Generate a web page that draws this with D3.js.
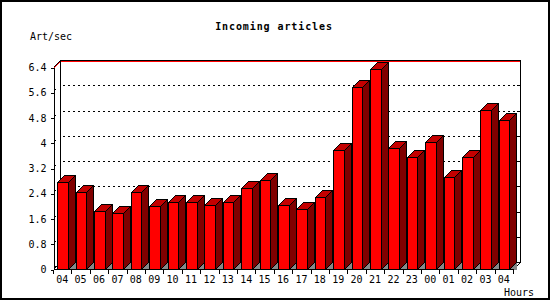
<!DOCTYPE html>
<html>
<head>
<meta charset="utf-8">
<script src="https://cdn.jsdelivr.net/npm/d3@7"></script>
<style>
  body { margin: 0; background: #fff; }
  text { font-family: "DejaVu Sans Mono", monospace; font-size: 10px; fill: #000; }
</style>
</head>
<body>
<div id="chart"></div>
<script>
const hours = ["04","05","06","07","08","09","10","11","12","13","14","15","16","17","18","19","20","21","22","23","00","01","02","03","04"]
const rates = [2.77,2.43,1.85,1.76,2.43,1.99,2.11,2.11,2.02,2.13,2.56,2.81,2.02,1.89,2.27,3.78,5.76,6.33,3.82,3.54,4.01,2.90,3.54,5.03,4.71]
const yTicks = [0,0.8,1.6,2.4,3.2,4,4.8,5.6,6.4]
const gridTicks = [0.8,1.6,2.4,3.2,4,4.8,5.6]

const width = 550
const height = 300
const left = 53, right = 513
const depth = 7

const svg = d3.select("#chart")
  .append("svg")
  .attr("width", width)
  .attr("height", height)
  .style("display", "block")

// outer frame
svg.append("rect")
  .attr("x", 1).attr("y", 1)
  .attr("width", width - 2).attr("height", height - 2)
  .attr("fill", "#fff").attr("stroke", "#000").attr("stroke-width", 2)

const x = d3.scaleBand()
  .domain(d3.range(hours.length))
  .range([left, right])
  .padding(0)

const y = d3.scaleLinear()
  .domain([0, 6.4])
  .range([269, 67])

const px = v => Math.round(v) + 0.5
const y0 = px(y(0))
const yMax = px(y(6.4))
const wl = left + depth, wr = right + depth

const g = svg.append("g").attr("shape-rendering", "crispEdges")

// dotted gridlines on back wall
g.selectAll("line.grid")
  .data(gridTicks)
  .join("line")
  .attr("x1", wl + 3).attr("x2", wr)
  .attr("y1", d => px(y(d)) - depth).attr("y2", d => px(y(d)) - depth)
  .attr("stroke", "#000").attr("stroke-dasharray", "2,3")

// right side ticks on wall
g.selectAll("line.rtick")
  .data(gridTicks)
  .join("line")
  .attr("x1", wr - 3).attr("x2", wr)
  .attr("y1", d => px(y(d)) - depth).attr("y2", d => px(y(d)) - depth)
  .attr("stroke", "#000")

// red line at top value
g.append("path")
  .attr("d", `M${left + 0.5},${yMax + 1}L${wl + 0.5},${yMax - depth + 1}L${wr + 0.5},${yMax - depth + 1}`)
  .attr("fill", "none").attr("stroke", "#f00")

// back wall edges
g.append("path")
  .attr("d", `M${left + 0.5},${yMax}L${wl + 0.5},${yMax - depth}L${wr + 0.5},${yMax - depth}L${wr + 0.5},${y0 - depth}L${wl + 0.5},${y0 - depth}L${wl + 0.5},${yMax - depth}`
    + `M${left + 0.5},${y0}L${wl + 0.5},${y0 - depth}M${right + 0.5},${y0}L${wr + 0.5},${y0 - depth}`)
  .attr("fill", "none").attr("stroke", "#000")

// bars
const bars = g.selectAll("g.bar")
  .data(rates)
  .join("g")
  .attr("class", "bar")

const bx = i => Math.round(x(i) + x.bandwidth() * 0.23) + 0.5
const bxr = i => Math.round(x(i) + x.bandwidth() * 0.8) + 0.5

bars.append("path")
  .attr("d", (d, i) => `M${bxr(i)},${y0}L${bxr(i) + depth},${y0 - depth}L${bxr(i) + depth},${y0}Z`)
  .attr("fill", "#888")

bars.append("path")
  .attr("d", (d, i) => {
    const t = px(y(d))
    return `M${bxr(i)},${t}L${bxr(i) + depth},${t - depth}L${bxr(i) + depth},${y0 - depth}L${bxr(i)},${y0}Z`
  })
  .attr("fill", "#800000").attr("stroke", "#000")

bars.append("path")
  .attr("d", (d, i) => {
    const t = px(y(d))
    return `M${bx(i)},${t}L${bx(i) + depth},${t - depth}L${bxr(i) + depth},${t - depth}L${bxr(i)},${t}Z`
  })
  .attr("fill", "#c40000").attr("stroke", "#000")

bars.append("rect")
  .attr("x", (d, i) => bx(i))
  .attr("y", d => px(y(d)))
  .attr("width", (d, i) => bxr(i) - bx(i))
  .attr("height", d => y0 - px(y(d)))
  .attr("fill", "#f00").attr("stroke", "#000")

// left axis
const yAxis = svg.append("g")
  .attr("transform", `translate(${left + 0.5},0.5)`)
  .attr("shape-rendering", "crispEdges")
  .call(d3.axisLeft(y).tickValues(yTicks).tickSize(3).tickSizeOuter(0).tickPadding(4).tickFormat(d => d))
yAxis.select(".domain").attr("stroke", "#000")
yAxis.selectAll("text").style("font-family", "DejaVu Sans Mono").style("font-size", "10px").attr("fill", "#000")

// small slanted marks right of the left axis
svg.selectAll("line.slant")
  .data(yTicks.slice(0, -1))
  .join("line")
  .attr("x1", left + 1).attr("x2", left + 3)
  .attr("y1", d => Math.round(y(d)) - 1).attr("y2", d => Math.round(y(d)) - 3)
  .attr("stroke", "#000")

// bottom axis
g.append("line")
  .attr("x1", left + 0.5).attr("x2", right + 0.5)
  .attr("y1", y0).attr("y2", y0)
  .attr("stroke", "#000")

g.selectAll("line.xtick")
  .data(d3.range(hours.length + 1))
  .join("line")
  .attr("x1", i => px(i < hours.length ? x(i) : right))
  .attr("x2", i => px(i < hours.length ? x(i) : right))
  .attr("y1", y0).attr("y2", y0 + 4)
  .attr("stroke", "#000")

const xAxis = svg.append("g")
  .attr("transform", `translate(0,${y0})`)
  .call(d3.axisBottom(x).tickSize(0).tickPadding(6).tickFormat(i => hours[i]))
xAxis.select(".domain").remove()
xAxis.selectAll("text").style("font-family", "DejaVu Sans Mono").style("font-size", "10px").attr("fill", "#000")

// titles
svg.append("text")
  .attr("x", 274).attr("y", 30)
  .attr("text-anchor", "middle")
  .style("font-weight", "bold")
  .style("letter-spacing", "0.9px")
  .text("Incoming articles")

svg.append("text")
  .attr("x", 30).attr("y", 40)
  .text("Art/sec")

svg.append("text")
  .attr("x", 534).attr("y", 296)
  .attr("text-anchor", "end")
  .text("Hours")
</script>
</body>
</html>
